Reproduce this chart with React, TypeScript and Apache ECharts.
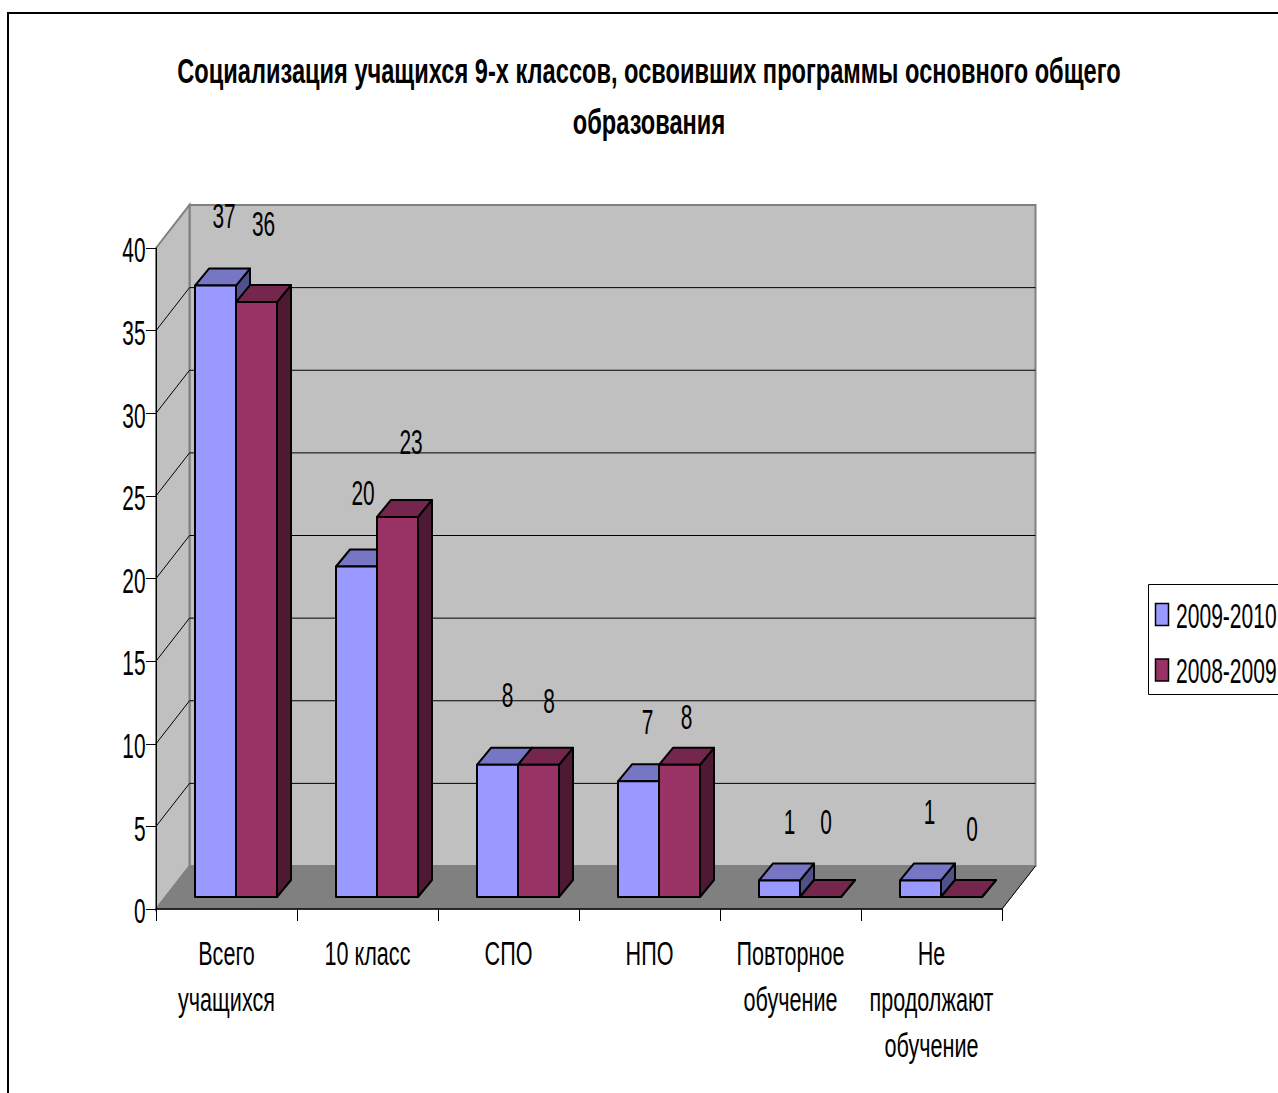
import React, { useEffect, useRef } from "react";
import * as echarts from "echarts";

const titleLines = [
  "Социализация учащихся 9-х классов, освоивших программы основного общего",
  "образования",
];
const categories = ["Всего\nучащихся", "10 класс", "СПО", "НПО", "Повторное\nобучение", "Не\nпродолжают\nобучение"];
const seriesNames = ["2009-2010", "2008-2009"];
const values2010 = [37, 20, 8, 7, 1, 1];
const values2009 = [36, 23, 8, 8, 0, 0];
const yTicks = [0, 5, 10, 15, 20, 25, 30, 35, 40];
const gridValues = [5, 10, 15, 20, 25, 30, 35];

// hand placement of the data labels relative to each bar's top edge (dx, dy)
const labelOffsets2010 = [[8.5, -70], [6.5, -74.5], [10, -71], [9, -60.5], [10, -59.5], [9, -69.5]];
const labelOffsets2009 = [[7, -79], [13.5, -76], [10.5, -65], [7, -49], [5.5, -76], [10.5, -69]];

const palette2010 = { front: "#9999ff", top: "#7676c4", side: "#50508a" };
const palette2009 = { front: "#993366", top: "#74264d", side: "#4e1a33" };

const FONT = '"Liberation Sans", Arial, sans-serif';
const NARROW = 0.58;
const WALL_DX = 33.5;
const WALL_DY = -43;
const BAR_DX = 14;
const BAR_DY = -17;
const BAR_W = 41;
const BAR_LIFT = 12;

function wallsItem(params: any) {
  const { x, y, width, height } = params.coordSys;
  const b = y + height;
  const r = x + width;
  const edge = { stroke: "#808080", lineWidth: 2 };
  return {
    type: "group",
    children: [
      { type: "polygon", shape: { points: [[x + WALL_DX, y + WALL_DY], [r + WALL_DX, y + WALL_DY], [r + WALL_DX, b + WALL_DY], [x + WALL_DX, b + WALL_DY]] }, style: { fill: "#c0c0c0", ...edge } },
      { type: "polygon", shape: { points: [[x, y], [x + WALL_DX, y + WALL_DY], [x + WALL_DX, b + WALL_DY], [x, b]] }, style: { fill: "#c0c0c0", ...edge } },
      { type: "polygon", shape: { points: [[x, b], [x + WALL_DX, b + WALL_DY], [r + WALL_DX, b + WALL_DY], [r, b]] }, style: { fill: "#808080", stroke: "#808080", lineWidth: 1 } },
      { type: "line", shape: { x1: r, y1: b, x2: r + WALL_DX, y2: b + WALL_DY }, style: { stroke: "#000", lineWidth: 1 } },
    ],
  };
}

function gridLineItem(params: any, api: any) {
  const { x, width } = params.coordSys;
  const yv = api.coord([0, api.value(1)])[1];
  const style = { stroke: "#000", lineWidth: 1 };
  return {
    type: "group",
    children: [
      { type: "line", shape: { x1: x, y1: yv, x2: x + WALL_DX, y2: yv + WALL_DY }, style },
      { type: "line", shape: { x1: x + WALL_DX, y1: yv + WALL_DY, x2: x + width + WALL_DX, y2: yv + WALL_DY }, style },
    ],
  };
}

function barRenderer(seriesIndex: number, palette: any, offsets: number[][]) {
  return (params: any, api: any) => {
    const i = api.value(0);
    const v = api.value(1);
    const pTop = api.coord([i, v]);
    const pBase = api.coord([i, 0]);
    const l = pBase[0] - 31.5 + seriesIndex * BAR_W;
    const r = l + BAR_W;
    const t = pTop[1] - BAR_LIFT;
    const b = pBase[1] - BAR_LIFT;
    const line = { stroke: "#000", lineWidth: 2, lineJoin: "round" };
    const [dx, dy] = offsets[i];
    return {
      type: "group",
      children: [
        { type: "polygon", shape: { points: [[r, t], [r + BAR_DX, t + BAR_DY], [r + BAR_DX, b + BAR_DY], [r, b]] }, style: { fill: palette.side, ...line } },
        { type: "polygon", shape: { points: [[l, t], [l + BAR_DX, t + BAR_DY], [r + BAR_DX, t + BAR_DY], [r, t]] }, style: { fill: palette.top, ...line } },
        { type: "polygon", shape: { points: [[l, t], [r, t], [r, b], [l, b]] }, style: { fill: palette.front, ...line } },
        { type: "text", x: (l + r) / 2 + dx, y: t + dy, scaleX: NARROW, style: { text: String(v), fill: "#000", font: `36px ${FONT}`, textAlign: "center", textVerticalAlign: "middle" } },
      ],
    };
  };
}

function yLabelItem(params: any, api: any) {
  const v = api.value(1);
  const yv = api.coord([0, v])[1];
  return {
    type: "text", x: params.coordSys.x - 10.5, y: yv + 1.5, scaleX: NARROW,
    style: { text: String(v), fill: "#000", font: `36px ${FONT}`, textAlign: "right", textVerticalAlign: "middle" },
  };
}

function xLabelItem(params: any, api: any) {
  const i = api.value(0);
  const p = api.coord([i, 0]);
  return {
    type: "text", x: p[0], y: p[1] + 21, scaleX: 0.635,
    style: { text: categories[i], fill: "#000", font: `34px ${FONT}`, lineHeight: 46, textAlign: "center", textVerticalAlign: "top" },
  };
}

const legendRows = [
  { name: seriesNames[0], color: palette2010.front, y: 614.5 },
  { name: seriesNames[1], color: palette2009.front, y: 670 },
];

export default function App() {
  const ref = useRef<HTMLDivElement>(null);
  useEffect(() => {
    const chart = echarts.init(ref.current!, null, { renderer: "svg" });
    chart.setOption({
      animation: false,
      backgroundColor: "#fff",
      grid: { left: 156, right: 276, top: 248, bottom: 184, containLabel: false },
      xAxis: {
        type: "category", data: categories, z: 6,
        axisLine: { lineStyle: { color: "#000", width: 1.5 } },
        axisTick: { show: true, length: 12, lineStyle: { color: "#000", width: 1 } },
        axisLabel: { show: false }, splitLine: { show: false },
      },
      yAxis: {
        type: "value", min: 0, max: 40, interval: 5, z: 6,
        axisLine: { show: true, lineStyle: { color: "#000", width: 1 } },
        axisTick: { show: true, length: 10, lineStyle: { color: "#000", width: 1 } },
        axisLabel: { show: false }, splitLine: { show: false },
      },
      series: [
        { type: "custom", name: "walls", z: 1, silent: true, data: [[0, 0]], renderItem: wallsItem },
        { type: "custom", name: "grid", z: 2, silent: true, data: gridValues.map((v) => [0, v]), renderItem: gridLineItem },
        { type: "custom", name: seriesNames[0], z: 3, data: values2010.map((v, i) => [i, v]), renderItem: barRenderer(0, palette2010, labelOffsets2010) },
        { type: "custom", name: seriesNames[1], z: 4, data: values2009.map((v, i) => [i, v]), renderItem: barRenderer(1, palette2009, labelOffsets2009) },
        { type: "custom", name: "yLabels", z: 5, silent: true, data: yTicks.map((v) => [0, v]), renderItem: yLabelItem },
        { type: "custom", name: "xLabels", z: 5, silent: true, data: categories.map((_, i) => [i, 0]), renderItem: xLabelItem },
      ],
      graphic: [
        { type: "rect", z: 0, shape: { x: 8, y: 13, width: 1500, height: 1300 }, style: { fill: "none", stroke: "#000", lineWidth: 2 } },
        ...titleLines.map((t, i) => ({
          type: "text", x: 649, y: 71 + i * 51, scaleX: 0.675,
          style: { text: t, fill: "#000", font: `bold 35px ${FONT}`, textAlign: "center", textVerticalAlign: "middle" },
        })),
        { type: "rect", shape: { x: 1148.5, y: 584.5, width: 160, height: 110 }, style: { fill: "#fff", stroke: "#000", lineWidth: 1 } },
        ...legendRows.flatMap((row) => [
          { type: "rect", shape: { x: 1155.5, y: row.y - 11, width: 13, height: 22 }, style: { fill: row.color, stroke: "#000", lineWidth: 1.5 } },
          { type: "text", x: 1176, y: row.y + 0.5, scaleX: 0.585, style: { text: row.name, fill: "#000", font: `36px ${FONT}`, textAlign: "left", textVerticalAlign: "middle" } },
        ]),
      ],
    });
    return () => chart.dispose();
  }, []);
  return <div ref={ref} style={{ position: "fixed", left: 0, top: 0, width: 1278, height: 1093 }} />;
}
